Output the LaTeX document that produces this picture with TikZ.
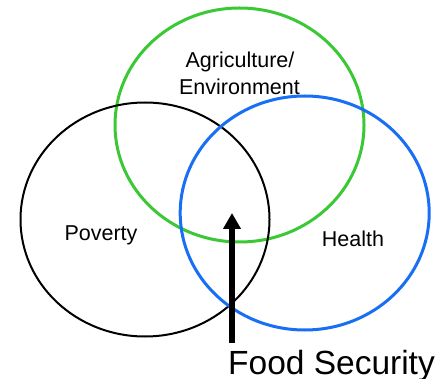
\documentclass[tikz,border=0pt]{standalone}
\usepackage{fontspec}
\setmainfont{Liberation Sans}
\usetikzlibrary{shapes.geometric,arrows.meta}
\definecolor{agrigreen}{RGB}{58,200,52}
\definecolor{healthblue}{RGB}{24,110,245}
\begin{document}
\begin{tikzpicture}[x=1pt,y=-1pt,
  setring/.style={ellipse,draw,inner sep=0pt,minimum width=249pt,minimum height=234pt},
  label/.style={anchor=base,font=\fontsize{21.5}{27}\selectfont,align=center}]
\useasboundingbox (0,0) rectangle (444,379);
% the three overlapping sets
\node[setring,draw=agrigreen,line width=3pt] (agri) at (239.5,125) {};
\node[setring,draw=black,line width=2pt] (pov) at (145,219.5) {};
\node[setring,draw=healthblue,line width=3pt] (health) at (304.7,213) {};
% arrow pointing into the common overlap
\coordinate (base) at (232,343);
\coordinate (core) at (232,213);
\draw[line width=5.5pt,-{Triangle[length=16pt,width=17pt]}] (base) -- (core);
% set labels
\node[label] (agrilbl) at (240,68) {Agriculture/};
\node[label] (envlbl) at (239.5,95) {Environment};
\node[label] (povlbl) at (101,240.7) {Poverty};
\node[label] (healthlbl) at (353,246.7) {Health};
\node[anchor=base,font=\fontsize{33.5}{40}\selectfont] (food) at (331.5,374) {Food Security};
\end{tikzpicture}
\end{document}
